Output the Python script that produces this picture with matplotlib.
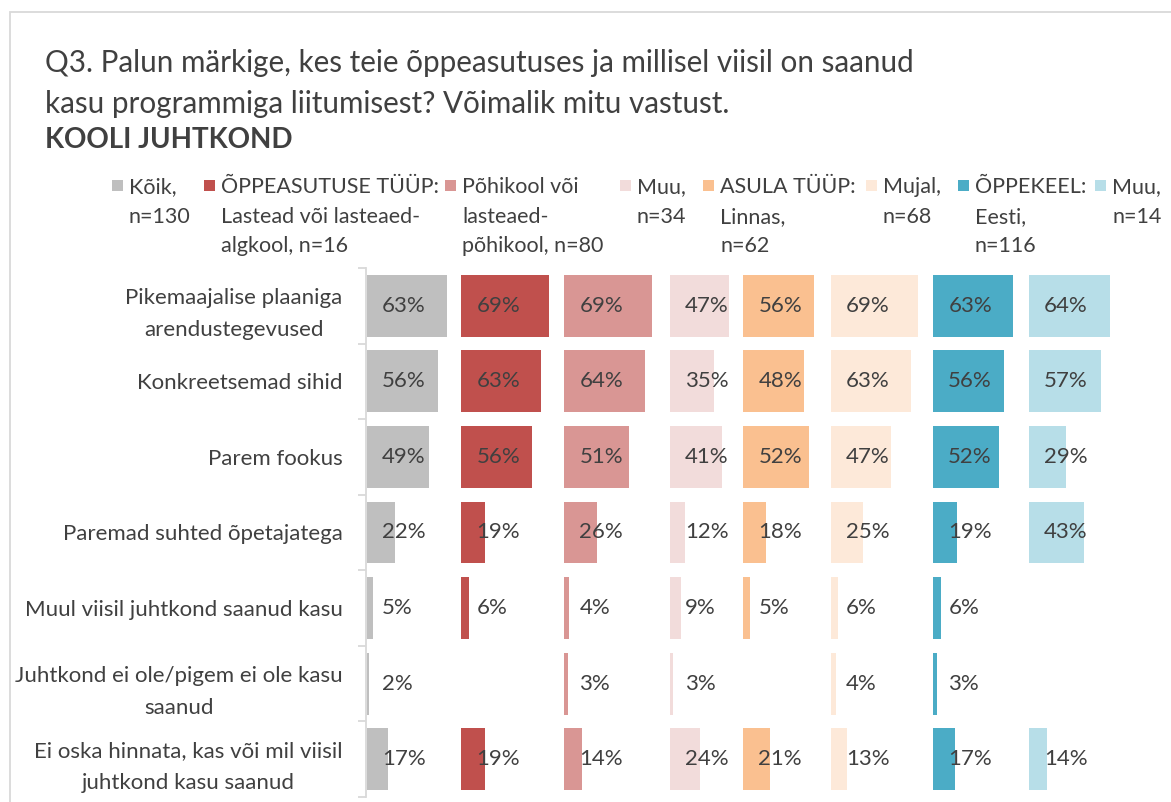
import numpy as np
import matplotlib
matplotlib.use("Agg")
import matplotlib.pyplot as plt
from matplotlib.patches import Rectangle

plt.rcParams['font.family'] = ['Lato', 'DejaVu Sans']

TXT = '#404040'
W, H = 1171, 802

categories = [
    "Pikemaajalise plaaniga\narendustegevused",
    "Konkreetsemad sihid",
    "Parem fookus",
    "Paremad suhted õpetajatega",
    "Muul viisil juhtkond saanud kasu",
    "Juhtkond ei ole/pigem ei ole kasu\nsaanud",
    "Ei oska hinnata, kas või mil viisil\njuhtkond kasu saanud",
]

# None = no answer shown for that group
koik = [63, 56, 49, 22, 5, 2, 17]
lastead = [69, 63, 56, 19, 6, None, 19]
pohikool = [69, 64, 51, 26, 4, 3, 14]
muu_kool = [47, 35, 41, 12, 9, 3, 24]
linnas = [56, 48, 52, 18, 5, None, 21]
mujal = [69, 63, 47, 25, 6, 4, 13]
eesti = [63, 56, 52, 19, 6, 3, 17]
muu_keel = [64, 57, 29, 43, None, None, 14]

series = [koik, lastead, pohikool, muu_kool, linnas, mujal, eesti, muu_keel]
colors = ['#BFBFBF', '#C0504D', '#D99694', '#F2DCDB',
          '#FAC090', '#FDE9D9', '#4BACC6', '#B7DEE8']
legend_texts = [
    "Kõik,\nn=130",
    "ÕPPEASUTUSE TÜÜP:\nLastead või lasteaed-\nalgkool, n=16",
    "Põhikool või\nlasteaed-\npõhikool, n=80",
    "Muu,\nn=34",
    "ASULA TÜÜP:\nLinnas,\nn=62",
    "Mujal,\nn=68",
    "ÕPPEKEEL:\nEesti,\nn=116",
    "Muu,\nn=14",
]

# where each group's bars start (in percent units) and legend text x (px)
offsets = [0.5, 75, 156, 239, 297, 366, 446.5, 522]
legend_x = [129, 221, 462, 637, 720, 883, 975, 1112]

fig = plt.figure(figsize=(W / 100, H / 100), dpi=100)

# outer frame
fig.add_artist(Rectangle((10 / W, -0.1), 1.2, 1 - 12 / H + 0.1,
                         transform=fig.transFigure, fill=False,
                         ec='#D9D9D9', lw=1.3))

# title
fig.text(45 / W, 1 - 63 / H,
         "Q3. Palun märkige, kes teie õppeasutuses ja millisel viisil on saanud",
         fontsize=21.3, color=TXT, va='center', ha='left')
fig.text(45 / W, 1 - 104 / H,
         "kasu programmiga liitumisest? Võimalik mitu vastust.",
         fontsize=21.3, color=TXT, va='center', ha='left')
fig.text(45 / W, 1 - 140 / H, "KOOLI JUHTKOND",
         fontsize=20, color=TXT, va='center', ha='left', fontweight='bold')

# legend drawn by hand, one column per group
for i in range(len(series)):
    lx = legend_x[i]
    fig.add_artist(Rectangle(((lx - 17) / W, 1 - 191 / H), 11 / W, 11 / H,
                             transform=fig.transFigure, color=colors[i], lw=0))
    fig.text(lx / W, 1 - 177 / H, legend_texts[i], fontsize=15.5, color=TXT,
             va='top', ha='left', linespacing=1.6)

ax = fig.add_axes([366 / W, 1 - 797 / H, (W - 366) / W, 529 / H])
scale = 1.27
ax.set_xlim(0, (W - 366) / scale)
ax.set_ylim(6.5, -0.5)

y = np.arange(len(categories))
for i, vals in enumerate(series):
    for j, v in enumerate(vals):
        if v is None:
            continue
        ax.barh(y[j], v, left=offsets[i], height=0.82, color=colors[i], lw=0)
        ax.text(offsets[i] + 12, y[j], f"{v}%", fontsize=16, color=TXT,
                va='center', ha='left')

ax.set_yticks(y)
ax.set_yticklabels(categories, fontsize=16, color=TXT, multialignment='center',
                   linespacing=1.75)
ax.set_yticks(np.arange(-0.5, 7, 1), minor=True)
ax.tick_params(axis='y', which='major', length=0, pad=17)
ax.tick_params(axis='y', which='minor', length=6, color='#D9D9D9', width=1.3)
ax.set_xticks([])
for s in ['top', 'right', 'bottom']:
    ax.spines[s].set_visible(False)
ax.spines['left'].set_color('#D9D9D9')
ax.spines['left'].set_linewidth(1.3)

fig.savefig("out.png", dpi=100)
